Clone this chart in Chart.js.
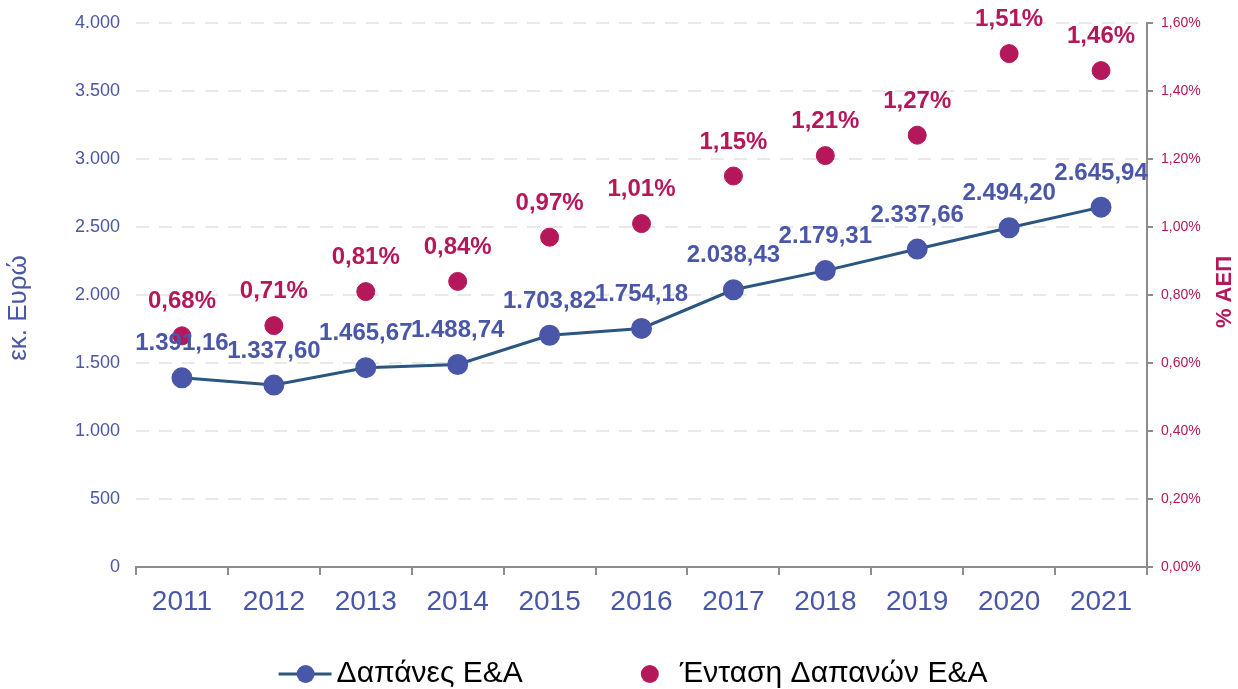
<!DOCTYPE html>
<html>
<head>
<meta charset="utf-8">
<script src="https://cdn.jsdelivr.net/npm/chart.js@4"></script>
<style>
  html, body { margin: 0; padding: 0; background: #fff; }
  #wrap { width: 1238px; height: 689px; position: relative; }
</style>
</head>
<body>
<div id="wrap"><canvas id="rd-chart"></canvas></div>
<script>
const years = ["2011", "2012", "2013", "2014", "2015", "2016", "2017", "2018", "2019", "2020", "2021"];
const spending = [1391.16, 1337.60, 1465.67, 1488.74, 1703.82, 1754.18, 2038.43, 2179.31, 2337.66, 2494.20, 2645.94];
const intensity = [0.68, 0.71, 0.81, 0.84, 0.97, 1.01, 1.15, 1.21, 1.27, 1.51, 1.46];
const leftTitle = "εκ. Ευρώ";
const rightTitle = "% ΑΕΠ";

const BLUE = "#4A56A8";
const LINE = "#2A5680";
const MAGENTA = "#B5185A";
const FONT = "Arial, 'Liberation Sans', sans-serif";

// greek number format: 1.391,16
function fmt(v, dec) {
    const parts = v.toFixed(dec).split(".");
    parts[0] = parts[0].replace(/\B(?=(\d{3})+(?!\d))/g, ".");
    return parts.join(",");
}

const labelsPlugin = {
    id: "valueLabels",
    afterDatasetsDraw(chart) {
        const ctx = chart.ctx;
        ctx.save();
        ctx.font = "bold 24px " + FONT;
        ctx.textAlign = "center";
        ctx.textBaseline = "middle";
        // magenta first, blue on top
        [1, 0].forEach(di => {
            const meta = chart.getDatasetMeta(di);
            const data = chart.data.datasets[di].data;
            ctx.fillStyle = di === 0 ? BLUE : MAGENTA;
            meta.data.forEach((pt, i) => {
                const txt = di === 0 ? fmt(data[i], 2) : fmt(data[i], 2) + "%";
                ctx.fillText(txt, pt.x, pt.y - 34);
            });
        });
        ctx.restore();
    },
    afterDraw(chart) {
        const ctx = chart.ctx;
        const area = chart.chartArea;
        const mid = (area.top + area.bottom) / 2;
        ctx.save();
        ctx.textAlign = "center";
        ctx.textBaseline = "middle";

        // axis titles
        ctx.save();
        ctx.translate(19, mid + 13);
        ctx.rotate(-Math.PI / 2);
        ctx.fillStyle = BLUE;
        ctx.font = "26px " + FONT;
        ctx.fillText(leftTitle, 0, 0);
        ctx.restore();

        ctx.save();
        ctx.translate(chart.width - 13, mid - 3);
        ctx.rotate(-Math.PI / 2);
        ctx.fillStyle = MAGENTA;
        ctx.font = "bold 22px " + FONT;
        ctx.fillText(rightTitle, 0, 0);
        ctx.restore();

        // legend
        const ly = 674;
        ctx.font = "30px " + FONT;
        ctx.textAlign = "left";
        const t1 = chart.data.datasets[0].label;
        const t2 = chart.data.datasets[1].label;
        const w1 = ctx.measureText(t1).width;
        const w2 = ctx.measureText(t2).width;
        const total = 53 + 5 + w1 + 118 + 18 + 21 + w2;
        let x = chart.width / 2 + 14 - total / 2;

        ctx.strokeStyle = LINE;
        ctx.lineWidth = 3;
        ctx.beginPath();
        ctx.moveTo(x, ly);
        ctx.lineTo(x + 53, ly);
        ctx.stroke();
        ctx.fillStyle = BLUE;
        ctx.beginPath();
        ctx.arc(x + 27, ly, 9, 0, Math.PI * 2);
        ctx.fill();
        x += 58;
        ctx.fillStyle = "#000";
        ctx.fillText(t1, x, ly);
        x += w1 + 118;
        ctx.fillStyle = MAGENTA;
        ctx.beginPath();
        ctx.arc(x + 9, ly, 9, 0, Math.PI * 2);
        ctx.fill();
        x += 39;
        ctx.fillStyle = "#000";
        ctx.fillText(t2, x, ly);
        ctx.restore();
    }
};

new Chart(document.getElementById("rd-chart"), {
    type: "line",
    data: {
        labels: years,
        datasets: [
            {
                label: "Δαπάνες Ε&Α",
                data: spending,
                yAxisID: "y",
                borderColor: LINE,
                borderWidth: 3,
                pointBackgroundColor: BLUE,
                pointBorderColor: BLUE,
                pointRadius: 9,
                pointHoverRadius: 9,
                tension: 0,
                clip: false,
                order: 1
            },
            {
                label: "Ένταση Δαπανών Ε&Α",
                data: intensity,
                yAxisID: "y1",
                showLine: false,
                borderColor: MAGENTA,
                pointBackgroundColor: MAGENTA,
                pointBorderColor: MAGENTA,
                pointRadius: 9,
                pointHoverRadius: 9,
                clip: false,
                order: 2
            }
        ]
    },
    options: {
        responsive: true,
        maintainAspectRatio: false,
        animation: false,
        layout: { padding: { top: 23, bottom: 72, left: 0, right: 0 } },
        plugins: {
            legend: { display: false },
            tooltip: { enabled: false }
        },
        scales: {
            x: {
                offset: true,
                afterFit: s => { s.height = 50; },
                grid: {
                    offset: true,
                    drawOnChartArea: false,
                    drawTicks: true,
                    tickLength: 8,
                    color: "#8C8C8C",
                    lineWidth: 2
                },
                border: { color: "#8C8C8C", width: 2 },
                ticks: {
                    color: BLUE,
                    font: { size: 28, family: FONT },
                    padding: 10,
                    maxRotation: 0
                }
            },
            y: {
                position: "left",
                min: 0,
                max: 4000,
                afterFit: s => { s.width = 136; s.paddingTop = 0; s.paddingBottom = 0; },
                grid: {
                    color: "#E9E9E9",
                    lineWidth: 2,
                    drawTicks: false
                },
                border: { display: false, dash: [13, 10] },
                ticks: {
                    stepSize: 500,
                    color: BLUE,
                    font: { size: 18, family: FONT },
                    padding: 16,
                    callback: v => fmt(v, 0)
                }
            },
            y1: {
                position: "right",
                min: 0,
                max: 1.6,
                afterFit: s => { s.width = 91; s.paddingTop = 0; s.paddingBottom = 0; },
                grid: {
                    drawOnChartArea: false,
                    drawTicks: true,
                    tickLength: 6,
                    color: "#8C8C8C",
                    lineWidth: 2
                },
                border: { color: "#8C8C8C", width: 2 },
                ticks: {
                    stepSize: 0.2,
                    color: MAGENTA,
                    font: { size: 14, family: FONT },
                    padding: 8,
                    callback: v => fmt(v, 2) + "%"
                }
            }
        }
    },
    plugins: [labelsPlugin]
});
</script>
</body>
</html>
